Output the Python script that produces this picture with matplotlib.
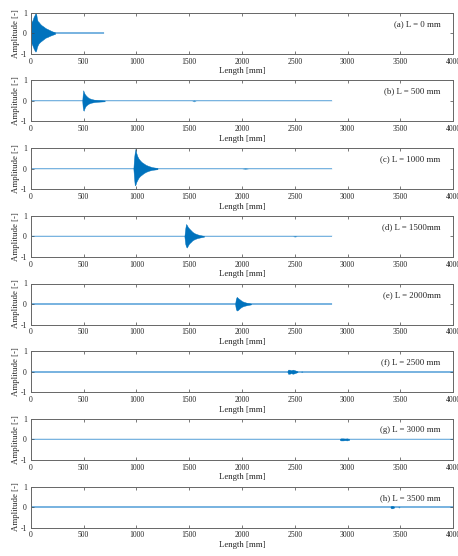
import matplotlib
matplotlib.use("Agg")
import matplotlib.pyplot as plt

plt.rcParams['font.family'] = ['Liberation Serif', 'DejaVu Serif']

# ---------------- data ----------------
labels = ["(a) L = 0 mm", "(b) L = 500 mm", "(c) L = 1000 mm", "(d) L = 1500mm",
          "(e) L = 2000mm", "(f) L = 2500 mm", "(g) L = 3000 mm", "(h) L = 3500 mm"]

# end of each recorded trace [mm]
trace_end = [690, 2850, 2850, 2850, 2850, 4000, 4000, 4000]
# half-width of the background noise band
noise_amp = [0.04, 0.025, 0.025, 0.025, 0.025, 0.05, 0.04, 0.05]

# main wave packet envelopes
env_a_x = [0, 8, 18, 28, 38, 45, 52, 58, 65, 75, 90, 105, 120, 140, 160, 180, 200, 215, 230]
env_a_hi = [0.35, 0.55, 0.65, 0.8, 0.9, 1.0, 0.95, 0.75, 0.6, 0.55, 0.45, 0.38, 0.33, 0.25, 0.2, 0.15, 0.1, 0.07, 0.04]
env_a_lo = [-0.35, -0.5, -0.62, -0.75, -0.85, -0.9, -0.85, -0.7, -0.6, -0.5, -0.42, -0.36, -0.3, -0.22, -0.18, -0.13, -0.09, -0.06, -0.04]

env_b_x = [488, 492, 497, 502, 510, 520, 535, 550, 570, 600, 640, 700]
env_b_hi = [0.02, 0.3, 0.52, 0.45, 0.35, 0.28, 0.2, 0.14, 0.1, 0.06, 0.04, 0.02]
env_b_lo = [-0.02, -0.3, -0.45, -0.48, -0.35, -0.25, -0.18, -0.13, -0.09, -0.06, -0.04, -0.02]

env_c_x = [972, 978, 985, 992, 1000, 1010, 1020, 1035, 1050, 1070, 1090, 1120, 1150, 1200]
env_c_hi = [0.02, 0.5, 0.8, 0.97, 0.75, 0.6, 0.5, 0.4, 0.32, 0.25, 0.18, 0.12, 0.07, 0.03]
env_c_lo = [-0.02, -0.45, -0.82, -0.78, -0.65, -0.55, -0.45, -0.36, -0.3, -0.22, -0.16, -0.1, -0.06, -0.03]

env_d_x = [1455, 1462, 1470, 1478, 1488, 1500, 1515, 1530, 1550, 1575, 1600, 1640]
env_d_hi = [0.02, 0.35, 0.6, 0.55, 0.45, 0.38, 0.3, 0.22, 0.15, 0.1, 0.06, 0.02]
env_d_lo = [-0.02, -0.35, -0.5, -0.55, -0.45, -0.35, -0.28, -0.2, -0.14, -0.09, -0.06, -0.02]

env_e_x = [1935, 1942, 1950, 1960, 1972, 1985, 2000, 2020, 2045, 2085]
env_e_hi = [0.02, 0.25, 0.35, 0.3, 0.25, 0.2, 0.14, 0.1, 0.06, 0.02]
env_e_lo = [-0.02, -0.25, -0.32, -0.3, -0.24, -0.18, -0.13, -0.09, -0.06, -0.02]

env_f_x = [2430, 2436, 2450, 2465, 2480, 2495, 2510, 2525]
env_f_hi = [0.02, 0.1, 0.1, 0.07, 0.1, 0.08, 0.05, 0.02]
env_f_lo = [-0.02, -0.1, -0.1, -0.07, -0.1, -0.08, -0.05, -0.02]

env_g_x = [2925, 2935, 2955, 2975, 2995, 3015]
env_g_hi = [0.02, 0.05, 0.05, 0.04, 0.05, 0.02]
env_g_lo = [-0.02, -0.05, -0.05, -0.04, -0.05, -0.02]

env_h_x = [3405, 3412, 3425, 3440]
env_h_hi = [0.02, 0.06, 0.06, 0.02]
env_h_lo = [-0.02, -0.06, -0.06, -0.02]

# small secondary echoes
echo_x = [None, [1525, 1545, 1565], [2000, 2030, 2060], [2480, 2500, 2520], None,
          [2555, 2565, 2575], None, [3475, 3485, 3495]]
echo_amp = [None, 0.04, 0.035, 0.035, None, 0.04, None, 0.045]

env_x = [env_a_x, env_b_x, env_c_x, env_d_x, env_e_x, env_f_x, env_g_x, env_h_x]
env_hi = [env_a_hi, env_b_hi, env_c_hi, env_d_hi, env_e_hi, env_f_hi, env_g_hi, env_h_hi]
env_lo = [env_a_lo, env_b_lo, env_c_lo, env_d_lo, env_e_lo, env_f_lo, env_g_lo, env_h_lo]

x_ticks = [0, 500, 1000, 1500, 2000, 2500, 3000, 3500, 4000]
y_ticks = [-1, 0, 1]

# ---------------- figure ----------------
W, H = 458, 556
fig = plt.figure(figsize=(W / 100, H / 100), dpi=100)
blue = '#0072BD'
light = '#8fc0e6'
left_px, right_px = 30.7, 453.3
ax_h = 41
for i in range(8):
    top = 12.7 + 67.7 * i
    ax = fig.add_axes([left_px / W, 1 - (top + ax_h) / H, (right_px - left_px) / W, ax_h / H])
    na = noise_amp[i]
    ax.fill_between([0, trace_end[i]], [-na, -na], [na, na], color=light, lw=0)
    ax.plot([0, trace_end[i]], [0, 0], color=blue, lw=0.35, alpha=0.6)
    ax.fill_between(env_x[i], env_lo[i], env_hi[i], color=blue, lw=0.3, edgecolor=blue)
    if echo_x[i] is not None:
        ea = echo_amp[i]
        ax.fill_between(echo_x[i], [0, -ea, 0], [0, ea, 0], color=blue, alpha=0.6, lw=0)
    ax.set_xlim(0, 4000)
    ax.set_ylim(-1, 1)
    ax.set_xticks(x_ticks)
    ax.set_yticks(y_ticks)
    ax.set_yticklabels([str(v) for v in y_ticks])
    ax.tick_params(direction='in', length=2.5, width=0.5, top=True, right=True,
                   labelsize=5.5, pad=2.8, colors='#444444', labelcolor='#222222')
    for s in ax.spines.values():
        s.set_linewidth(0.7)
        s.set_color('#666666')
    ax.set_xlabel('Length [mm]', fontsize=6.3, labelpad=1.2, color='#222222')
    ax.set_ylabel('Amplitude [-]', fontsize=6.3, labelpad=0, color='#222222')
    ax.text(3880, 0.45, labels[i], ha='right', va='center', fontsize=6.3, color='#222222')

fig.savefig('out.png', dpi=100)
